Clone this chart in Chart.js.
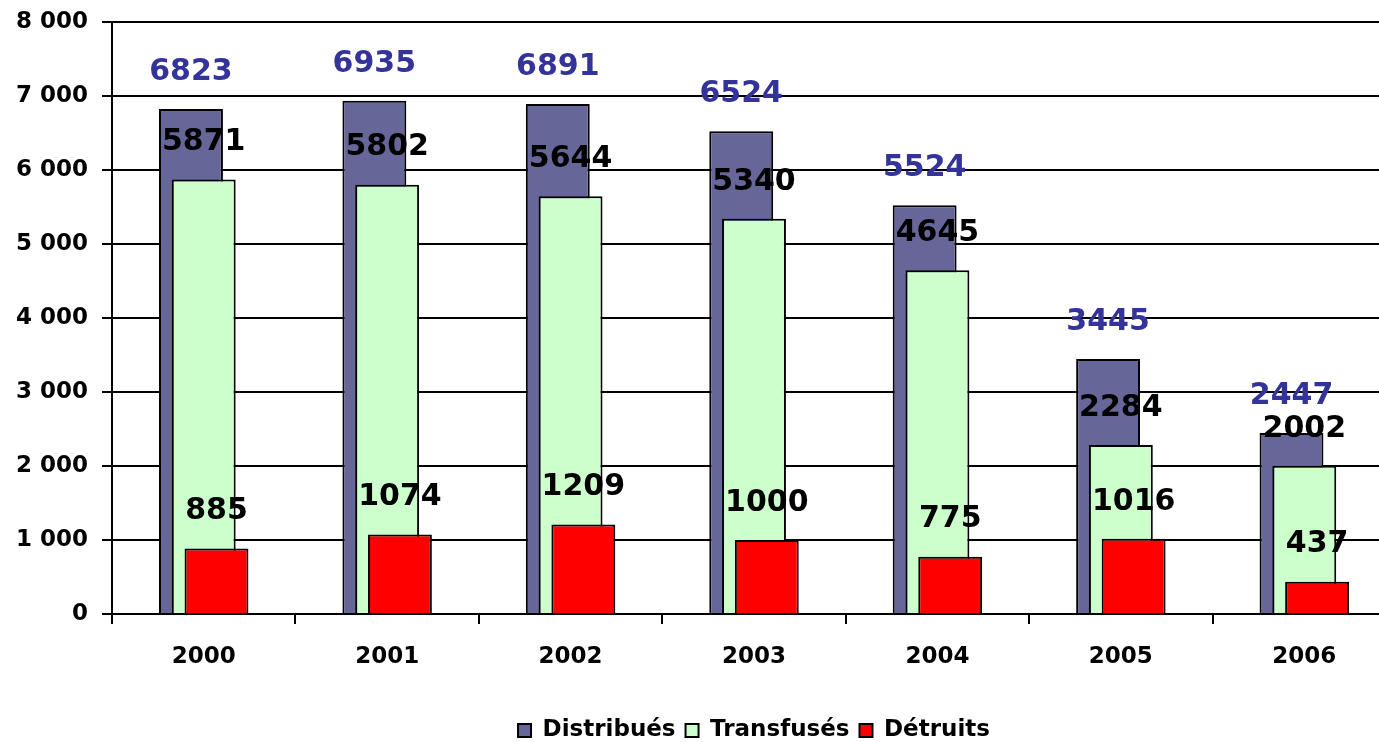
<!DOCTYPE html>
<html lang="fr">
<head>
  <meta charset="UTF-8" />
  <title>Distribués / Transfusés / Détruits</title>
  <script src="https://cdn.jsdelivr.net/npm/chart.js"></script>
  <style>
    html, body { margin: 0; padding: 0; background: #fff; overflow: hidden; }
    #wrap { width: 1396px; height: 752px; position: relative; }
  </style>
</head>
<body>
  <div id="wrap"><canvas id="chart"></canvas></div>

  <script>
    const years = ['2000', '2001', '2002', '2003', '2004', '2005', '2006'];
    const distribues = [6823, 6935, 6891, 6524, 5524, 3445, 2447];
    const transfuses = [5871, 5802, 5644, 5340, 4645, 2284, 2002];
    const detruits = [885, 1074, 1209, 1000, 775, 1016, 437];

    const FONT = '"DejaVu Sans", sans-serif';
    const fmt = v => String(v).replace(/\B(?=(\d{3})+(?!\d))/g, ' ');

    // draw datasets first-to-last so the later (offset) bars sit on top
    const drawOrder = {
      id: 'drawOrder',
      beforeDatasetsDraw(chart) {
        chart.data.datasets.forEach((ds, i) => chart.getDatasetMeta(i).controller.draw());
        return false;
      }
    };

    // values written above each bar
    const barLabels = {
      id: 'barLabels',
      afterDraw(chart) {
        const ctx = chart.ctx;
        ctx.save();
        ctx.font = 'bold 30px ' + FONT;
        ctx.textAlign = 'center';
        ctx.textBaseline = 'middle';
        chart.data.datasets.forEach((ds, i) => {
          ctx.fillStyle = i === 0 ? '#333399' : '#000';
          chart.getDatasetMeta(i).data.forEach((bar, j) => {
            ctx.fillText(ds.data[j], bar.x, bar.y - 37);
          });
        });
        ctx.restore();
      }
    };

    new Chart(document.getElementById('chart'), {
      type: 'bar',
      data: {
        labels: years,
        datasets: [
          { label: 'Distribués', data: distribues, backgroundColor: '#666699' },
          { label: 'Transfusés', data: transfuses, backgroundColor: '#CCFFCC' },
          { label: 'Détruits', data: detruits, backgroundColor: '#FF0000' }
        ]
      },
      options: {
        responsive: true,
        maintainAspectRatio: false,
        animation: false,
        layout: { padding: { top: 22, left: 0, right: 0, bottom: 0 } },
        datasets: {
          bar: {
            categoryPercentage: 0.209,
            barPercentage: 5.0,
            borderColor: '#000',
            borderWidth: 2
          }
        },
        scales: {
          x: {
            afterFit: s => { s.height = 95; },
            grid: { drawOnChartArea: false, color: '#000', lineWidth: 2, tickLength: 10 },
            border: { color: '#000', width: 2 },
            ticks: { color: '#000', padding: 19, font: { family: FONT, size: 23, weight: 'bold' } }
          },
          y: {
            min: 0,
            max: 8000,
            afterFit: s => { s.width = 112; s.paddingTop = 0; s.paddingBottom = 0; },
            grid: { color: '#000', lineWidth: 2, tickLength: 10 },
            border: { color: '#000', width: 2 },
            ticks: {
              stepSize: 1000,
              color: '#000',
              padding: 14,
              font: { family: FONT, size: 23, weight: 'bold' },
              callback: v => fmt(v)
            }
          }
        },
        plugins: {
          legend: {
            position: 'bottom',
            fullSize: false,
            labels: {
              color: '#000',
              boxWidth: 13,
              boxHeight: 13,
              padding: 10,
              font: { family: FONT, size: 23, weight: 'bold' }
            }
          },
          tooltip: { enabled: false }
        }
      },
      plugins: [drawOrder, barLabels]
    });
  </script>
</body>
</html>
